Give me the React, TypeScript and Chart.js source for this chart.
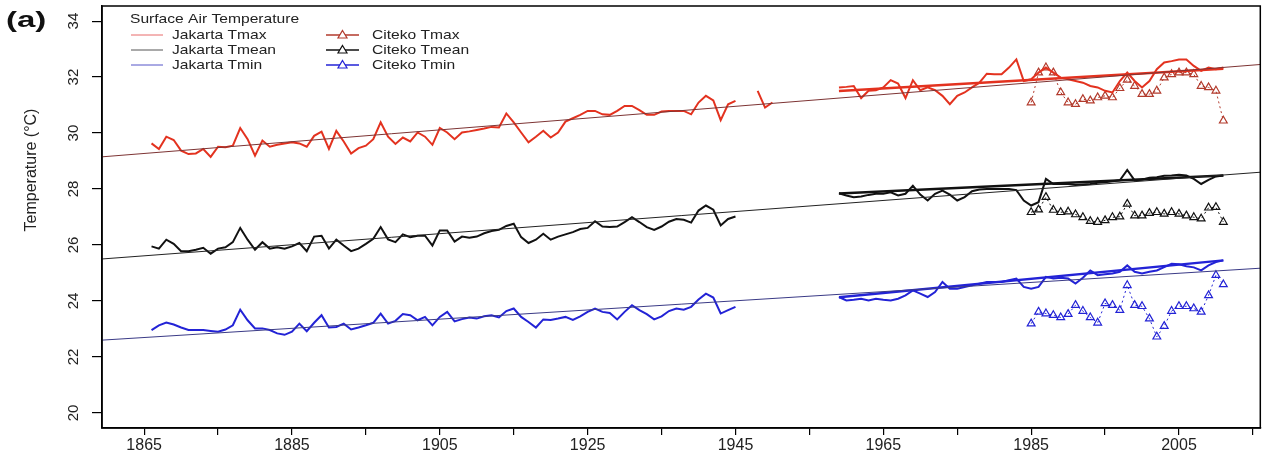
import React, { useEffect, useRef } from "react";
import { Chart, registerables } from "chart.js";

Chart.register(...registerables);

// ---- axes ----
const X_MIN = 1859.3;
const X_MAX = 2016;
const Y_MIN = 19.46;
const Y_MAX = 34.54;
const xTickYears = [1865, 1875, 1885, 1895, 1905, 1915, 1925, 1935, 1945, 1955, 1965, 1975, 1985, 1995, 2005, 2015];
const xLabelYears = [1865, 1885, 1905, 1925, 1945, 1965, 1985, 2005];
const yTickValues = [20, 22, 24, 26, 28, 30, 32, 34];

// ---- legend ----
const legendTitle = "Surface Air Temperature";
const legendJakarta = ["Jakarta Tmax", "Jakarta Tmean", "Jakarta Tmin"];
const legendCiteko = ["Citeko Tmax", "Citeko Tmean", "Citeko Tmin"];

// ---- Jakarta Tmax ----
const jakTmaxStartA = 1866;
const jakTmaxA = [29.63, 29.43, 29.87, 29.75, 29.37, 29.25, 29.27, 29.43, 29.15, 29.51, 29.49, 29.55, 30.18, 29.78, 29.19, 29.73, 29.51, 29.58, 29.63, 29.67, 29.63, 29.51, 29.9, 30.05, 29.43, 30.08, 29.7, 29.27, 29.46, 29.55, 29.78, 30.38, 29.87, 29.61, 29.84, 29.7, 30.02, 29.87, 29.58, 30.18, 30.02, 29.78, 30.02, 30.06, 30.11, 30.16, 30.22, 30.2, 30.7, 30.38, 30.02, 29.67, 29.87, 30.08, 29.84, 30.02, 30.41, 30.53, 30.65, 30.79, 30.79, 30.67, 30.65, 30.79, 30.97, 30.97, 30.82, 30.65, 30.65, 30.77, 30.79, 30.79, 30.79, 30.67, 31.09, 31.33, 31.17, 30.46, 31.03, 31.15];
const jakTmaxStartB = 1948;
const jakTmaxB = [31.51, 30.91, 31.09];
const jakTmaxStartC = 1959;
const jakTmaxC = [31.63, 31.65, 31.68, 31.25, 31.51, 31.53, 31.63, 31.89, 31.77, 31.25, 31.89, 31.53, 31.63, 31.53, 31.33, 31.03, 31.33, 31.45, 31.63, 31.8, 32.12, 32.1, 32.1, 32.34, 32.63, 31.86, 31.92, 32.16, 32.34, 32.16, 31.98, 31.92, 31.86, 31.8, 31.68, 31.63, 31.51, 31.45, 31.86, 32.16, 31.86, 31.63, 31.86, 32.28, 32.52, 32.57, 32.63, 32.63, 32.4, 32.22, 32.34, 32.28, 32.34];

// ---- Jakarta Tmean ----
const jakTmeanStartA = 1866;
const jakTmeanA = [25.95, 25.87, 26.19, 26.04, 25.78, 25.78, 25.83, 25.9, 25.69, 25.87, 25.92, 26.1, 26.61, 26.19, 25.83, 26.1, 25.87, 25.92, 25.87, 25.95, 26.07, 25.78, 26.3, 26.33, 25.87, 26.19, 25.98, 25.78, 25.87, 26.04, 26.22, 26.64, 26.2, 26.1, 26.38, 26.28, 26.33, 26.33, 25.98, 26.52, 26.52, 26.12, 26.3, 26.26, 26.3, 26.42, 26.5, 26.54, 26.68, 26.76, 26.28, 26.07, 26.19, 26.4, 26.19, 26.3, 26.38, 26.46, 26.57, 26.61, 26.85, 26.66, 26.64, 26.66, 26.82, 26.99, 26.82, 26.64, 26.54, 26.66, 26.83, 26.93, 26.9, 26.8, 27.23, 27.41, 27.26, 26.7, 26.93, 27.02];
const jakTmeanStartC = 1959;
const jakTmeanC = [27.85, 27.77, 27.71, 27.73, 27.79, 27.83, 27.83, 27.88, 27.77, 27.83, 28.12, 27.8, 27.59, 27.83, 27.94, 27.8, 27.59, 27.71, 27.92, 27.98, 28.0, 28.0, 28.0, 28.0, 27.96, 27.59, 27.41, 27.53, 28.36, 28.18, 28.18, 28.18, 28.14, 28.16, 28.18, 28.22, 28.24, 28.28, 28.31, 28.68, 28.31, 28.33, 28.4, 28.42, 28.47, 28.48, 28.51, 28.48, 28.36, 28.18, 28.33, 28.45, 28.48];

// ---- Jakarta Tmin ----
const jakTminStartA = 1866;
const jakTminA = [22.96, 23.13, 23.23, 23.16, 23.05, 22.96, 22.96, 22.96, 22.93, 22.9, 22.98, 23.13, 23.69, 23.31, 23.02, 23.02, 22.96, 22.84, 22.79, 22.9, 23.19, 22.92, 23.22, 23.49, 23.05, 23.07, 23.19, 22.98, 23.05, 23.13, 23.22, 23.55, 23.19, 23.29, 23.53, 23.49, 23.31, 23.43, 23.13, 23.43, 23.61, 23.27, 23.35, 23.41, 23.37, 23.45, 23.49, 23.41, 23.64, 23.73, 23.43, 23.25, 23.05, 23.34, 23.32, 23.37, 23.43, 23.32, 23.45, 23.61, 23.73, 23.61, 23.57, 23.34, 23.61, 23.85, 23.67, 23.53, 23.34, 23.45, 23.64, 23.73, 23.69, 23.79, 24.05, 24.26, 24.12, 23.55, 23.67, 23.79];
const jakTminStartC = 1959;
const jakTminC = [24.14, 24.02, 24.04, 24.08, 24.02, 24.08, 24.04, 24.02, 24.08, 24.2, 24.38, 24.26, 24.14, 24.32, 24.68, 24.44, 24.44, 24.5, 24.56, 24.62, 24.68, 24.68, 24.68, 24.74, 24.8, 24.5, 24.44, 24.5, 24.86, 24.8, 24.83, 24.8, 24.62, 24.83, 25.09, 24.92, 24.95, 24.98, 25.04, 25.27, 25.04, 24.98, 25.04, 25.09, 25.21, 25.33, 25.31, 25.24, 25.2, 25.09, 25.27, 25.39, 25.45];

// ---- Citeko (1985-2011) ----
const citekoStart = 1985;
const citTmax = [31.09, 32.16, 32.34, 32.16, 31.45, 31.09, 31.03, 31.21, 31.16, 31.27, 31.33, 31.27, 31.6, 31.9, 31.68, 31.39, 31.39, 31.51, 31.98, 32.1, 32.16, 32.16, 32.1, 31.68, 31.63, 31.51, 30.44];
const citTmean = [27.17, 27.26, 27.71, 27.25, 27.17, 27.19, 27.09, 26.99, 26.85, 26.82, 26.88, 26.99, 27.01, 27.47, 27.05, 27.05, 27.14, 27.17, 27.11, 27.17, 27.11, 27.05, 26.99, 26.94, 27.33, 27.35, 26.82];
const citTmin = [23.19, 23.61, 23.55, 23.49, 23.41, 23.53, 23.85, 23.64, 23.41, 23.22, 23.91, 23.85, 23.67, 24.56, 23.85, 23.81, 23.37, 22.72, 23.1, 23.64, 23.81, 23.81, 23.73, 23.61, 24.2, 24.92, 24.59];

// ---- linear trends ----
const longTrendYears = [X_MIN, X_MAX];
const tmaxLongTrend = [29.15, 32.45];
const tmeanLongTrend = [25.5, 28.6];
const tminLongTrend = [22.6, 25.17];
const recentTrendYears = [1959, 2011];
const tmaxRecentTrend = [31.5, 32.3];
const tmeanRecentTrend = [27.84, 28.48];
const tminRecentTrend = [24.13, 25.45];

// ---- colours ----
const RED = "#e3321f";
const BLACK = "#111111";
const BLUE = "#2323d6";
const CIT_RED = "#b23a2c";

type P = { x: number; y: number | null };
function seg(start: number, vals: number[]): P[] {
  return vals.map((v, i) => ({ x: start + i, y: v }));
}
function pairs(xs: number[], ys: number[]): P[] {
  return xs.map((x, i) => ({ x, y: ys[i] }));
}
function gap(x: number): P {
  return { x, y: null };
}

const FONT = "'Liberation Sans', Arial, Helvetica, sans-serif";

const textPlugin = {
  id: "textPlugin",
  afterDraw(chart: any) {
    const { ctx, chartArea } = chart;
    const ys = chart.scales.y;
    ctx.save();
    // plot box
    ctx.strokeStyle = "#000";
    ctx.lineWidth = 1.5;
    ctx.strokeRect(chartArea.left, chartArea.top, chartArea.right - chartArea.left, chartArea.bottom - chartArea.top);

    // y tick labels (rotated)
    ctx.fillStyle = "#222";
    ctx.font = `15px ${FONT}`;
    ctx.textAlign = "center";
    ctx.textBaseline = "middle";
    yTickValues.forEach((v) => {
      const y = ys.getPixelForValue(v);
      ctx.save();
      ctx.translate(74, y);
      ctx.rotate(-Math.PI / 2);
      ctx.fillText(String(v), 0, 0);
      ctx.restore();
    });

    // y title
    ctx.save();
    ctx.translate(32, 170);
    ctx.rotate(-Math.PI / 2);
    ctx.font = `16px ${FONT}`;
    ctx.fillText("Temperature (\u00B0C)", 0, 0);
    ctx.restore();

    // panel letter
    ctx.save();
    ctx.translate(6, 21);
    ctx.scale(1.5, 1);
    ctx.font = `bold 22px ${FONT}`;
    ctx.textAlign = "left";
    ctx.fillStyle = "#111";
    ctx.fillText("(a)", 0, 0);
    ctx.restore();

    // legend
    const sx = 1.2;
    const drawText = (t: string, x: number, y: number) => {
      ctx.save();
      ctx.translate(x, y);
      ctx.scale(sx, 1);
      ctx.font = `13px ${FONT}`;
      ctx.textAlign = "left";
      ctx.textBaseline = "middle";
      ctx.fillStyle = "#222";
      ctx.fillText(t, 0, 0);
      ctx.restore();
    };
    drawText(legendTitle, 130, 19);
    const rows = [35, 50, 65];
    const jakCols = ["#e86a6a", "#555555", "#5555c8"];
    const citCols = [CIT_RED, BLACK, BLUE];
    rows.forEach((ry, i) => {
      ctx.strokeStyle = jakCols[i];
      ctx.lineWidth = 1;
      ctx.beginPath();
      ctx.moveTo(131, ry);
      ctx.lineTo(163, ry);
      ctx.stroke();
      drawText(legendJakarta[i], 172, ry);

      ctx.strokeStyle = citCols[i];
      ctx.lineWidth = 1.5;
      ctx.beginPath();
      ctx.moveTo(326, ry);
      ctx.lineTo(359, ry);
      ctx.stroke();
      // triangle marker
      ctx.fillStyle = "#fff";
      ctx.beginPath();
      ctx.moveTo(342.5, ry - 4.5);
      ctx.lineTo(347, ry + 3);
      ctx.lineTo(338, ry + 3);
      ctx.closePath();
      ctx.fill();
      ctx.lineWidth = 1.2;
      ctx.stroke();
      drawText(legendCiteko[i], 372, ry);
    });
    ctx.restore();
  },
};

export default function App() {
  const ref = useRef<HTMLCanvasElement | null>(null);

  useEffect(() => {
    document.body.style.margin = "0";
    const canvas = ref.current;
    if (!canvas) return;

    const jakTmax: P[] = [
      ...seg(jakTmaxStartA, jakTmaxA),
      gap(1946),
      ...seg(jakTmaxStartB, jakTmaxB),
      gap(1951),
      ...seg(jakTmaxStartC, jakTmaxC),
    ];
    const jakTmean: P[] = [...seg(jakTmeanStartA, jakTmeanA), gap(1950), ...seg(jakTmeanStartC, jakTmeanC)];
    const jakTmin: P[] = [...seg(jakTminStartA, jakTminA), gap(1950), ...seg(jakTminStartC, jakTminC)];

    const trend = (data: P[], color: string, width: number) => ({
      data,
      borderColor: color,
      borderWidth: width,
      pointRadius: 0,
      tension: 0,
    });
    const series = (data: P[], color: string) => ({
      data,
      borderColor: color,
      borderWidth: 2,
      pointRadius: 0,
      tension: 0,
      spanGaps: false,
    });
    const citeko = (data: P[], color: string) => ({
      data,
      borderColor: color,
      borderWidth: 1,
      borderDash: [2, 3],
      pointStyle: "triangle",
      pointRadius: 4.5,
      pointBorderWidth: 1.2,
      pointBorderColor: color,
      pointBackgroundColor: "rgba(255,255,255,0)",
      tension: 0,
    });

    const chart = new Chart(canvas, {
      type: "line",
      data: {
        datasets: [
          trend(pairs(longTrendYears, tmaxLongTrend), "#7d3434", 1),
          trend(pairs(longTrendYears, tmeanLongTrend), "#222222", 1),
          trend(pairs(longTrendYears, tminLongTrend), "#3a3a86", 1),
          series(jakTmax, RED),
          series(jakTmean, BLACK),
          series(jakTmin, BLUE),
          trend(pairs(recentTrendYears, tmaxRecentTrend), RED, 2.5),
          trend(pairs(recentTrendYears, tmeanRecentTrend), BLACK, 2.5),
          trend(pairs(recentTrendYears, tminRecentTrend), BLUE, 2.5),
          citeko(seg(citekoStart, citTmax), CIT_RED),
          citeko(seg(citekoStart, citTmean), BLACK),
          citeko(seg(citekoStart, citTmin), BLUE),
        ] as any,
      },
      options: {
        animation: false,
        responsive: false,
        parsing: false as any,
        normalized: true,
        layout: { padding: { left: 0, right: 4, top: 6, bottom: 0 } },
        plugins: { legend: { display: false }, tooltip: { enabled: false } },
        scales: {
          x: {
            type: "linear",
            min: X_MIN,
            max: X_MAX,
            afterBuildTicks: (s: any) => {
              s.ticks = xTickYears.map((v) => ({ value: v }));
            },
            afterFit: (s: any) => {
              s.height = 26;
            },
            grid: { display: true, drawOnChartArea: false, drawTicks: true, tickLength: 7, color: "#000", lineWidth: 1.2 },
            border: { display: true, color: "#000", width: 1.5 },
            ticks: {
              autoSkip: false,
              maxRotation: 0,
              minRotation: 0,
              padding: 1,
              color: "#222",
              font: { family: FONT, size: 16 },
              callback: (v: any) => (xLabelYears.includes(Number(v)) ? String(v) : ""),
            },
          },
          y: {
            type: "linear",
            min: Y_MIN,
            max: Y_MAX,
            afterBuildTicks: (s: any) => {
              s.ticks = yTickValues.map((v) => ({ value: v }));
            },
            afterFit: (s: any) => {
              s.width = 102;
            },
            grid: { display: true, drawOnChartArea: false, drawTicks: true, tickLength: 10, color: "#000", lineWidth: 1.2 },
            border: { display: true, color: "#000", width: 1.5 },
            ticks: { display: false },
          },
        },
      } as any,
      plugins: [textPlugin],
    });
    return () => chart.destroy();
  }, []);

  return (
    <div style={{ width: 1266, height: 454, background: "#fff" }}>
      <canvas ref={ref} width={1266} height={454} style={{ display: "block" }} />
    </div>
  );
}
